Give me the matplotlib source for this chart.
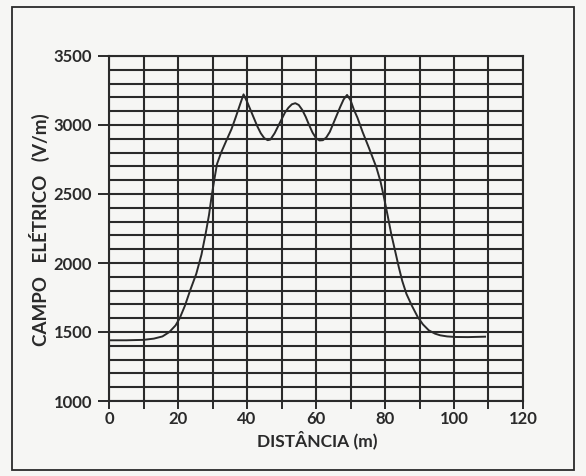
import numpy as np
import matplotlib.pyplot as plt
from matplotlib.patches import Rectangle

# distance (m) and electric field (V/m)
distancia = [0, 5, 10, 13, 15.5, 17.5, 19.3, 20.5, 22, 23.5, 25.3, 26.8, 28, 29, 29.7,
             30.5, 31.3, 32.5, 34, 35.5, 36.7, 38, 39,
             40, 41, 42, 43, 44, 45, 46, 46.8, 48, 49, 50, 51, 52, 53, 54, 55, 56, 57,
             58, 59, 60, 61, 62, 63, 64, 65, 66, 67, 68, 69,
             70, 71, 72, 73.5, 75.3, 77.5, 78.7, 79.7, 80.8, 81.8, 83, 84, 85,
             86.2, 87.8, 89.5, 91, 92.7, 94.5, 96, 98, 100.3, 104, 109]
campo = [1440, 1440, 1443, 1452, 1468, 1500, 1548, 1600, 1690, 1800, 1922, 2060, 2211, 2350, 2476,
         2600, 2717, 2800, 2886, 2970, 3054, 3150, 3222,
         3170, 3110, 3050, 2990, 2940, 2905, 2890, 2895, 2940, 2990, 3040, 3090, 3125, 3150, 3158, 3145, 3110, 3060,
         3000, 2945, 2905, 2888, 2890, 2910, 2950, 3010, 3070, 3130, 3185, 3218,
         3180, 3110, 3054, 2950, 2837, 2693, 2590, 2476, 2340, 2211, 2080, 1970, 1870,
         1777, 1690, 1608, 1555, 1512, 1488, 1476, 1468, 1464, 1463, 1466]

xticks = [0, 20, 40, 60, 80, 100, 120]
yticks = [1000, 1500, 2000, 2500, 3000, 3500]

ink = "#2a2a2a"
paper = "#f6f6f4"

plt.rcParams["font.family"] = ["Lato", "DejaVu Sans"]

fig = plt.figure(figsize=(5.86, 4.76), dpi=100, facecolor=paper)
ax = fig.add_axes([109 / 586, 1 - 401 / 476, 414 / 586, 345 / 476])
ax.set_facecolor(paper)

# scanned frame around the figure
fig.patches.append(Rectangle((12 / 586, 6 / 476), 562 / 586, 463 / 476,
                             transform=fig.transFigure, fill=False,
                             edgecolor=ink, linewidth=1.3))

ax.set_xlim(0, 120)
ax.set_ylim(1000, 3500)

# dense graph-paper grid
for xv in np.arange(0, 121, 10):
    ax.axvline(xv, color=ink, linewidth=1.5, zorder=1)
for yv in np.arange(1000, 3501, 100):
    ax.axhline(yv, color=ink, linewidth=1.5, zorder=1)

ax.plot(distancia, campo, color=ink, linewidth=1.4, zorder=3)

ax.set_xticks(xticks)
ax.set_xticks(np.arange(0, 121, 10), minor=True)
ax.set_yticks(yticks)
ax.set_xticklabels([str(v) for v in xticks], fontsize=12, fontweight="bold", color=ink)
ax.set_yticklabels([str(v) for v in yticks], fontsize=12, fontweight="bold", color=ink)
ax.tick_params(axis="x", which="both", direction="out", length=6, width=1.4, color=ink, pad=1)
ax.tick_params(axis="y", direction="out", length=8, width=1.4, color=ink, pad=4)
ax.tick_params(axis="y", which="minor", length=0)

for s in ax.spines.values():
    s.set_color(ink)
    s.set_linewidth(1.5)

ax.set_xlabel("DISTÂNCIA (m)", fontsize=12.5, fontweight="bold", color=ink)
ax.set_ylabel("CAMPO   ELÉTRICO   (V/m)", fontsize=13.5, fontweight="bold", color=ink)
ax.xaxis.set_label_coords(0.502, -0.113)
ax.yaxis.set_label_coords(-0.167, 0.496)
ax.xaxis.label.set_va("center")
ax.yaxis.label.set_va("center")

fig.savefig("out.png", dpi=100, facecolor=paper)
